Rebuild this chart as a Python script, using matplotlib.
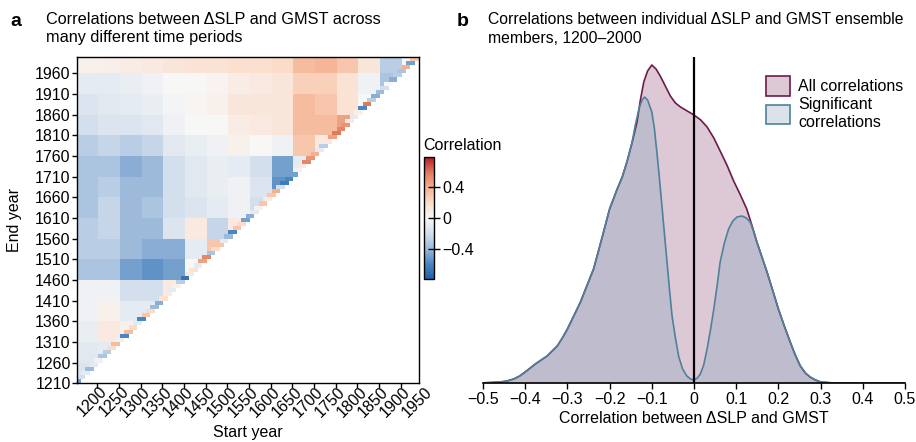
import numpy as np
import matplotlib
matplotlib.use("Agg")
import matplotlib.pyplot as plt
from matplotlib.colors import LinearSegmentedColormap
from matplotlib.patches import Patch
from matplotlib.transforms import ScaledTranslation

plt.rcParams['font.family'] = ['Liberation Sans', 'DejaVu Sans']
plt.rcParams['font.size'] = 11.5

# ---- panel a data -------------------------------------------------------
# end years (rows, bottom to top) and start years (columns), 10-year steps
end_years = list(range(1210, 2000, 10))
start_years = list(range(1200, 1990, 10))
ytick_labels = [str(y) for y in range(1210, 1961, 50)]
xtick_labels = [str(y) for y in range(1200, 1951, 50)]

# coarse correlation read per 50-year block (row block = end, col block = start)
block_corr = [
    [-0.15],
    [-0.12, -0.10],
    [-0.08, 0.10, 0.05],
    [-0.05, 0.05, -0.10, -0.10],
    [-0.05, -0.05, -0.20, -0.20, 0.10],
    [-0.35, -0.35, -0.50, -0.55, -0.50, 0.00],
    [-0.30, -0.30, -0.40, -0.45, -0.45, -0.10, 0.30],
    [-0.30, -0.25, -0.40, -0.40, -0.15, 0.10, -0.25, 0.10],
    [-0.35, -0.25, -0.40, -0.35, -0.20, -0.15, -0.10, -0.05, -0.20],
    [-0.35, -0.30, -0.40, -0.40, -0.20, -0.12, -0.08, -0.05, -0.15, -0.55],
    [-0.35, -0.35, -0.45, -0.40, -0.20, -0.12, -0.08, -0.10, -0.20, -0.50, -0.10],
    [-0.30, -0.25, -0.30, -0.25, -0.12, -0.08, -0.05, 0.05, 0.00, -0.05, 0.30, 0.10],
    [-0.20, -0.15, -0.15, -0.12, -0.05, 0.00, 0.00, 0.08, 0.10, 0.12, 0.35, 0.35, 0.45],
    [-0.15, -0.12, -0.10, -0.08, -0.02, 0.02, 0.05, 0.12, 0.12, 0.12, 0.35, 0.30, 0.15, 0.00],
    [-0.10, -0.10, -0.08, -0.05, 0.00, 0.00, 0.03, 0.08, 0.10, 0.12, 0.25, 0.25, 0.15, -0.05, -0.35],
    [0.05, 0.06, 0.08, 0.10, 0.12, 0.15, 0.15, 0.18, 0.18, 0.20, 0.35, 0.38, 0.30, 0.12, -0.30, 0.00],
]

# shortest periods (cells along the diagonal), one per end year
diag_corr = [
    -0.50, -0.20, -0.10, -0.40, -0.10,
    -0.05, -0.35, -0.30, 0.20, 0.35,
    -0.05, -0.60, 0.35, 0.20, -0.10,
    -0.60, 0.30, 0.20, -0.40, -0.45,
    0.15, 0.10, -0.10, 0.05, -0.30,
    -0.70, 0.10, 0.15, -0.10, 0.45,
    0.55, -0.35, 0.20, 0.30, -0.10,
    -0.40, -0.60, 0.30, 0.20, -0.50,
    -0.45, -0.10, 0.05, 0.30, 0.10,
    0.30, 0.40, -0.20, -0.65, -0.60,
    -0.50, -0.05, 0.10, 0.55, 0.50,
    0.40, -0.10, -0.30, 0.10, 0.45,
    0.60, 0.55, 0.50, 0.10, -0.10,
    0.05, -0.60, 0.60, -0.30, -0.45,
    -0.40, -0.20, 0.00, -0.45, -0.30,
    -0.35, 0.40, -0.50, 0.30,
]

# ---- panel b data -------------------------------------------------------
all_x = [-0.506, -0.480, -0.459, -0.443, -0.427, -0.413, -0.400, -0.388, -0.376,
         -0.362, -0.348, -0.336, -0.324, -0.312, -0.300, -0.285, -0.269, -0.254,
         -0.238, -0.220, -0.200, -0.182, -0.170, -0.159, -0.147, -0.135, -0.127,
         -0.119, -0.110, -0.100, -0.090, -0.080, -0.068, -0.056, -0.044, -0.032,
         -0.016, 0.000, 0.016, 0.031, 0.047, 0.062, 0.078, 0.094, 0.110, 0.125,
         0.137, 0.149, 0.161, 0.173, 0.187, 0.200, 0.214, 0.228, 0.240, 0.252,
         0.264, 0.275, 0.288, 0.300, 0.330, 0.500]
all_d = [0.00, 0.005, 0.01, 0.02, 0.04, 0.07, 0.11, 0.15, 0.19,
         0.23, 0.27, 0.32, 0.37, 0.45, 0.54, 0.67, 0.81, 0.97,
         1.14, 1.42, 1.74, 1.94, 2.06, 2.21, 2.40, 2.61, 2.83,
         3.01, 3.12, 3.18, 3.14, 3.07, 2.97, 2.87, 2.80, 2.76,
         2.72, 2.68, 2.63, 2.56, 2.45, 2.32, 2.18, 2.02, 1.88, 1.74,
         1.58, 1.41, 1.26, 1.11, 0.92, 0.74, 0.57, 0.41, 0.28, 0.17,
         0.10, 0.06, 0.03, 0.01, 0.00, 0.00]

sig_x = [-0.506, -0.480, -0.459, -0.443, -0.427, -0.413, -0.400, -0.388, -0.376,
         -0.362, -0.348, -0.336, -0.324, -0.312, -0.300, -0.285, -0.269, -0.254,
         -0.238, -0.220, -0.200, -0.182, -0.170, -0.159, -0.147, -0.139, -0.130,
         -0.123, -0.117, -0.110, -0.100, -0.094, -0.088, -0.082, -0.076, -0.070,
         -0.064, -0.058, -0.052, -0.044, -0.036, -0.027, -0.017, -0.008, 0.000,
         0.008, 0.015, 0.023, 0.031, 0.039, 0.047, 0.055, 0.062, 0.072, 0.082,
         0.092, 0.102, 0.114, 0.124, 0.133, 0.141, 0.149, 0.161, 0.173, 0.187,
         0.200, 0.214, 0.228, 0.240, 0.252, 0.264, 0.275, 0.288, 0.300, 0.330,
         0.500]
sig_d = [0.00, 0.005, 0.01, 0.02, 0.04, 0.07, 0.11, 0.15, 0.19,
         0.23, 0.27, 0.32, 0.37, 0.45, 0.54, 0.67, 0.81, 0.97,
         1.14, 1.42, 1.74, 1.94, 2.06, 2.21, 2.40, 2.58, 2.75,
         2.83, 2.86, 2.83, 2.71, 2.55, 2.31, 2.05, 1.77, 1.49,
         1.21, 0.93, 0.67, 0.45, 0.26, 0.14, 0.07, 0.04, 0.03,
         0.05, 0.09, 0.18, 0.34, 0.53, 0.74, 0.98, 1.21, 1.40, 1.54,
         1.62, 1.66, 1.67, 1.65, 1.61, 1.52, 1.41, 1.26, 1.11, 0.92,
         0.74, 0.57, 0.41, 0.28, 0.17, 0.10, 0.06, 0.03, 0.01, 0.00,
         0.00]

W, H = 916, 442


def rect(x0, y0, x1, y1):
    # pixel box (top-left origin) -> figure fraction rect
    return [x0 / W, 1 - y1 / H, (x1 - x0) / W, (y1 - y0) / H]


def fpos(x, y):
    return x / W, 1 - y / H


fig = plt.figure(figsize=(W / 100, H / 100), dpi=100)

# ---- panel a ------------------------------------------------------------
n = len(end_years)
corr = np.full((n, len(start_years)), np.nan)
for j in range(n):
    for i in range(j + 1):
        corr[j, i] = block_corr[j // 5][i // 5]
    corr[j, j] = diag_corr[j]
    if j > 0:
        corr[j, j - 1] = diag_corr[j]
corr = np.ma.masked_invalid(corr)

cmap = LinearSegmentedColormap.from_list(
    'rdbu_soft', ['#1f5fa8', '#4a86c0', '#9dbadb', '#d3dfec', '#f7f7f7',
                  '#fbdcca', '#f4b190', '#df7a5c', '#b2182b'])

ax1 = fig.add_axes(rect(76.7, 56.7, 419, 383.3))
mesh = ax1.pcolormesh(np.arange(len(start_years) + 1), np.arange(n + 1), corr,
                      cmap=cmap, vmin=-0.8, vmax=0.8)
ax1.set_xlim(0, len(start_years))
ax1.set_ylim(0, n)
ax1.set_yticks(np.arange(0, 76, 5))
ax1.set_yticklabels(ytick_labels)
xt = np.arange(len(xtick_labels)) * 5 + 4.8
ax1.set_xticks(xt[:-1])
ax1.set_xticklabels(xtick_labels[:-1])
ax1.tick_params(direction='out', length=3.3, width=1, labelsize=11.5, pad=1)
shift = ScaledTranslation(5 / 72, 0, fig.dpi_scale_trans)
for lbl in ax1.get_xticklabels():
    lbl.set_rotation(45)
    lbl.set_ha('right')
    lbl.set_va('center')
    lbl.set_rotation_mode('anchor')
    lbl.set_transform(lbl.get_transform() + shift)
# last label sits just past the frame in the original
trans, _, _ = ax1.get_xaxis_text1_transform(4.3)
ax1.text(xt[-1], 0, xtick_labels[-1], rotation=45, ha='right', va='center',
         rotation_mode='anchor', fontsize=11.5, clip_on=False,
         transform=trans + shift)
for s in ax1.spines.values():
    s.set_linewidth(1)
fig.text(*fpos(248, 433), 'Start year', ha='center', va='center', fontsize=11.5)
fig.text(*fpos(15, 220), 'End year', ha='center', va='center', rotation=90,
         fontsize=11.5)

cax = fig.add_axes(rect(424.3, 156.7, 434.3, 279.3))
cb = fig.colorbar(mesh, cax=cax, ticks=[-0.4, 0, 0.4])
cb.ax.set_yticklabels(['\u22120.4', '0', '0.4'])
cb.ax.tick_params(direction='inout', length=9, width=1, labelsize=11.5, pad=1)
cb.outline.set_linewidth(1)
fig.text(*fpos(423, 146), 'Correlation', ha='left', va='center', fontsize=11.5)

fig.text(*fpos(10, 22), 'a', fontsize=14, fontweight='bold', va='center')
fig.text(*fpos(46, 12), 'Correlations between \u0394SLP and GMST across\nmany different time periods',
         ha='left', va='top', fontsize=11.7, linespacing=1.25)

# ---- panel b ------------------------------------------------------------
ax2 = fig.add_axes(rect(483, 57, 905, 383))
ax2.fill_between(all_x, all_d, color='#ddc8d6', lw=0)
ax2.fill_between(sig_x, sig_d, color='#a8b3c9', alpha=0.55, lw=0)
ax2.plot(all_x, all_d, color='#6e1a4b', lw=1.2)
ax2.plot(sig_x, sig_d, color='#4f819c', lw=1.2)
ax2.axvline(0, color='black', lw=1.6)
ax2.set_xlim(-0.5, 0.5)
ax2.set_ylim(0, 3.26)
ax2.set_xticks(np.arange(-0.5, 0.51, 0.1))
ax2.set_xticklabels(['\u22120.5', '\u22120.4', '\u22120.3', '\u22120.2', '\u22120.1',
                     '0', '0.1', '0.2', '0.3', '0.4', '0.5'])
ax2.set_yticks([])
for side in ['left', 'right', 'top']:
    ax2.spines[side].set_visible(False)
ax2.spines['bottom'].set_linewidth(1.2)
ax2.tick_params(axis='x', direction='out', length=4.5, width=1, labelsize=11.5, pad=2)
ax2.set_xlabel('Correlation between \u0394SLP and GMST', fontsize=11.5, labelpad=3)
handles = [Patch(facecolor='#ddc8d6', edgecolor='#6e1a4b', lw=1.2),
           Patch(facecolor='#dce2ea', edgecolor='#4f819c', lw=1.2)]
ax2.legend(handles, ['All correlations', 'Significant\ncorrelations'],
           loc='upper left', bbox_to_anchor=((755 - 483) / 422, 0.975),
           frameon=False, fontsize=11.5, handlelength=1.5, handleheight=1.5,
           handletextpad=0.5, labelspacing=0.1, borderaxespad=0.3)

fig.text(*fpos(457, 22), 'b', fontsize=14, fontweight='bold', va='center')
fig.text(*fpos(488, 12), 'Correlations between individual \u0394SLP and GMST ensemble\nmembers, 1200\u20132000',
         ha='left', va='top', fontsize=11.3, linespacing=1.3)

fig.savefig('out.png', dpi=100)
